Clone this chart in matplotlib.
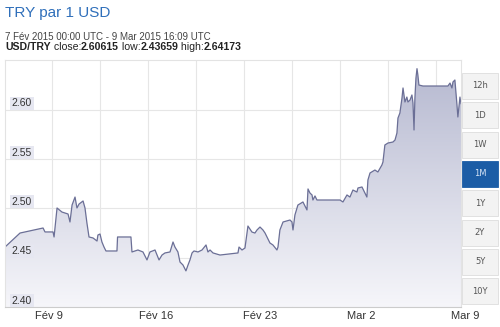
import numpy as np
import matplotlib
matplotlib.use("Agg")
import matplotlib.pyplot as plt
from matplotlib.colors import LinearSegmentedColormap
from matplotlib.patches import Rectangle
from matplotlib.transforms import ScaledTranslation

plt.rcParams['font.family'] = ['Liberation Sans', 'DejaVu Sans']

# days since 7 Feb 2015 00:00 UTC, and USD/TRY rate
days = [0.00, 1.01, 2.56, 2.69, 3.23, 3.30, 3.50, 3.83, 4.24, 4.37, 4.51, 4.71, 4.84, 4.98,
        5.25, 5.38, 5.51, 5.65, 5.92, 6.19, 6.25, 6.39, 6.52, 6.66, 6.79, 7.53, 7.57, 8.47,
        8.54, 8.94, 9.28, 9.55, 9.75, 10.09, 10.36, 10.56, 10.76, 11.10, 11.30, 11.43, 11.63,
        11.77, 11.97, 12.17, 12.31, 12.44, 12.58, 12.71, 12.98, 13.25, 13.52, 13.65, 13.79,
        13.99, 14.46, 15.67, 15.74, 15.94, 16.14, 16.34, 16.61, 16.81, 16.95, 17.15, 17.35,
        17.49, 17.82, 18.02, 18.29, 18.36, 18.49, 18.70, 19.17, 19.30, 19.37, 19.50, 19.70,
        20.04, 20.31, 20.38, 20.51, 20.65, 20.71, 20.85, 20.98, 22.53, 22.73, 23.00, 23.20,
        23.40, 23.67, 23.74, 24.01, 24.21, 24.34, 24.41, 24.55, 24.88, 25.08, 25.35, 25.42,
        25.55, 25.76, 26.09, 26.23, 26.36, 26.43, 26.56, 26.70, 26.77, 26.90, 27.03, 27.10,
        27.24, 27.37, 27.44, 27.51, 27.57, 27.64, 27.71, 27.77, 27.84, 28.11, 28.45, 29.79,
        29.93, 30.06, 30.13, 30.26, 30.33, 30.40, 30.46, 30.60, 30.67]
rate = [2.4608, 2.4750, 2.4801, 2.4761, 2.4761, 2.4710, 2.5004, 2.4963, 2.4943, 2.4862,
        2.5034, 2.5115, 2.5004, 2.5044, 2.5075, 2.5004, 2.4852, 2.4710, 2.4700, 2.4669,
        2.4730, 2.4740, 2.4659, 2.4608, 2.4568, 2.4568, 2.4710, 2.4710, 2.4558, 2.4578,
        2.4558, 2.4477, 2.4558, 2.4578, 2.4477, 2.4527, 2.4548, 2.4558, 2.4659, 2.4608,
        2.4558, 2.4456, 2.4426, 2.4366, 2.4426, 2.4477, 2.4548, 2.4568, 2.4558, 2.4578,
        2.4629, 2.4558, 2.4578, 2.4548, 2.4527, 2.4548, 2.4608, 2.4578, 2.4598, 2.4821,
        2.4760, 2.4750, 2.4781, 2.4811, 2.4781, 2.4750, 2.4649, 2.4629, 2.4578, 2.4608,
        2.4781, 2.4862, 2.4882, 2.4862, 2.4781, 2.4933, 2.5034, 2.5065, 2.4984, 2.5197,
        2.5156, 2.5136, 2.5085, 2.5126, 2.5085, 2.5085, 2.5065, 2.5136, 2.5115, 2.5186,
        2.5166, 2.5207, 2.5217, 2.5156, 2.5115, 2.5288, 2.5359, 2.5389, 2.5369, 2.5440,
        2.5470, 2.5643, 2.5663, 2.5673, 2.5693, 2.5764, 2.5916, 2.5967, 2.6119, 2.6221,
        2.6079, 2.6129, 2.6079, 2.6099, 2.6150, 2.6069, 2.5795, 2.6119, 2.6322, 2.6417,
        2.6352, 2.6251, 2.6241, 2.6241, 2.6241, 2.6271, 2.6221, 2.6282, 2.6302, 2.6180,
        2.6048, 2.5927, 2.6129, 2.6062]

yticks = [2.40, 2.45, 2.50, 2.55, 2.60]
xtick_days = [2, 9, 16, 23, 30]
xtick_labels = ["Fév 9", "Fév 16", "Fév 23", "Mar 2", "Mar 9"]
buttons = ["12h", "1D", "1W", "1M", "1Y", "2Y", "5Y", "10Y"]
active = "1M"

fig = plt.figure(figsize=(5, 3.27), dpi=100)
ax = fig.add_axes([0.01, 0.0612, 0.912, 0.7554])
ymin, ymax = 2.40, 2.6505
xmax = days[-1]
ax.set_xlim(0, xmax)
ax.set_ylim(ymin, ymax)

# grid
for y in yticks[1:]:
    ax.axhline(y, color="#e6e6e6", lw=0.8, zorder=0)
for x in np.arange(3.16, xmax, 3.227):
    ax.axvline(x, color="#e6e6e6", lw=0.8, zorder=0)

# gradient fill under the curve
cmap = LinearSegmentedColormap.from_list("g", ["#f6f6fa", "#b4b7cf"])
poly = ax.fill_between(days, rate, ymin, facecolor="none", edgecolor="none")
grad = np.linspace(0, 1, 256).reshape(-1, 1)
im = ax.imshow(grad, cmap=cmap, origin="lower", aspect="auto",
               extent=[0, xmax, ymin, ymax], zorder=1)
im.set_clip_path(poly.get_paths()[0], transform=ax.transData)
ax.plot(days, rate, color="#6b6f96", lw=0.9, zorder=2)

# y labels inside the plot
for y in yticks:
    ax.text(0.45, y + 0.0015, f"{y:.2f}", fontsize=7.5, color="#333333",
            ha="left", va="bottom", zorder=3,
            bbox=dict(boxstyle="square,pad=0.15", fc="#e6e7f1", ec="none"))

ax.set_yticks([])
ax.set_xticks(xtick_days)
ax.set_xticklabels(xtick_labels, fontsize=8, color="#333333", ha="left")
offset = ScaledTranslation(9 / 100, 0, fig.dpi_scale_trans)
for lab in ax.get_xticklabels():
    lab.set_transform(lab.get_transform() + offset)
ax.tick_params(axis="x", length=0, pad=3)
for side in ["left", "top", "right"]:
    ax.spines[side].set_color("#e3e3e3")
    ax.spines[side].set_linewidth(0.8)
ax.spines["bottom"].set_color("#cccccc")
ax.spines["bottom"].set_linewidth(0.8)

# header
fig.text(0.01, 0.982, "TRY par 1 USD", fontsize=11, color="#2f6fba", va="top")
fig.text(0.01, 0.878, "7 Fév 2015 00:00 UTC - 9 Mar 2015 16:09 UTC",
         fontsize=7, color="#444444", va="baseline")
parts = [("USD/TRY", True), (" close:", False), ("2.60615", True), (" low:", False),
         ("2.43659", True), (" high:", False), ("2.64173", True)]
renderer = fig.canvas.get_renderer()
x = 0.01
for txt, bold in parts:
    t = fig.text(x, 0.848, txt, fontsize=7.6, color="#222222",
                 fontweight="bold" if bold else "normal", va="baseline")
    bb = t.get_window_extent(renderer)
    x = bb.x1 / fig.bbox.width

# buttons on the right
for i, b in enumerate(buttons):
    top = 73 + i * 29.3
    y0 = 1 - (top + 26) / 327
    on = b == active
    fig.patches.append(Rectangle((0.924, y0), 0.072, 26 / 327, transform=fig.transFigure,
                                 fc="#1c5da6" if on else "#f3f3f3",
                                 ec="#1c5da6" if on else "#dddddd", lw=0.6))
    fig.text(0.96, y0 + 13 / 327, b, fontsize=6, family="DejaVu Sans",
             color="#d6e4f5" if on else "#555555", ha="center", va="center")

fig.savefig("out.png", dpi=100)
